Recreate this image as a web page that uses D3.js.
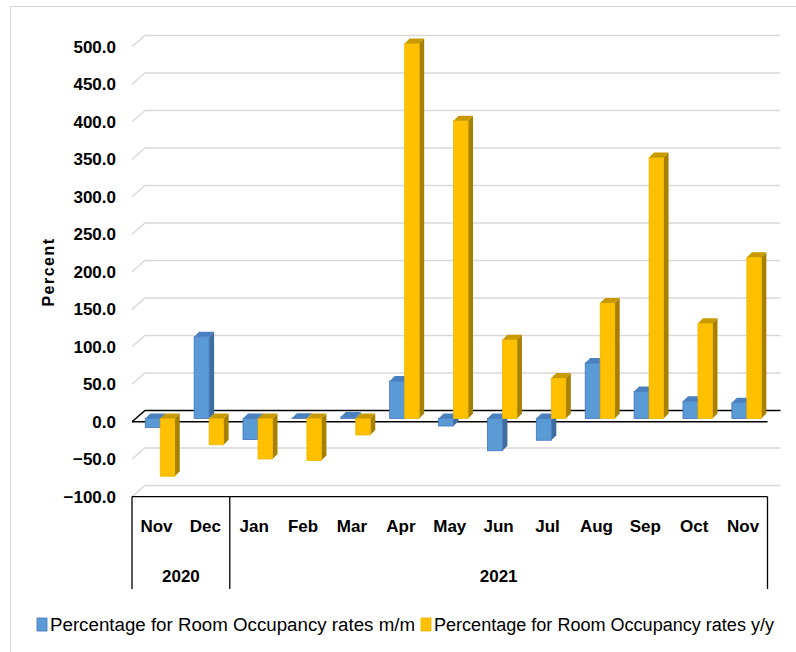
<!DOCTYPE html>
<html>
<head>
<meta charset="utf-8">
<script src="https://cdn.jsdelivr.net/npm/d3@7"></script>
<style>
  body { margin: 0; background: #fff; }
  text { font-family: "Liberation Sans", Arial, sans-serif; fill: #000; }
</style>
</head>
<body>
<div id="vis"></div>
<script>
// room occupancy change, Nov 2020 - Nov 2021
const months = ["Nov", "Dec", "Jan", "Feb", "Mar", "Apr", "May", "Jun", "Jul", "Aug", "Sep", "Oct", "Nov"];
const years = ["2020", "2020", "2021", "2021", "2021", "2021", "2021", "2021", "2021", "2021", "2021", "2021", "2021"];
const mom = [-12, 109, -28, 0.5, 2, 50, -10, -43, -29, 74, 36, 23, 21];
const yoy = [-77, -35, -54, -56, -22, 500, 397, 105, 54, 154, 348, 127, 215];
const yTicks = [-100, -50, 0, 50, 100, 150, 200, 250, 300, 350, 400, 450, 500];
const seriesNames = ["Percentage for Room Occupancy rates m/m", "Percentage for Room Occupancy rates y/y"];

const WIDTH = 796, HEIGHT = 652;
const FRONT = {left: 132, right: 767.5};
const DEPTH = {dx: 13, dy: -11.3};   // floor depth (front edge -> back wall)
const BAR_D = 5;                      // bar depth offset

const COLORS = [
  {front: "#5B9BD5", top: "#4A80BF", side: "#3F6E9E", stroke: "#4472C4"},
  {front: "#FFC000", top: "#C99A00", side: "#A88000", stroke: "#F2B600"}
];

const svg = d3.select("#vis").append("svg")
  .attr("width", WIDTH).attr("height", HEIGHT);

// chart frame
svg.append("rect")
  .attr("x", 10.5).attr("y", 6.5).attr("width", 800).attr("height", 660)
  .attr("fill", "none").attr("stroke", "#D9D9D9");

const keys = months.map((m, i) => years[i] + "-" + m + "-" + i);

const X = d3.scaleBand().domain(keys).range([FRONT.left, FRONT.right]);
const Y_FRONT = d3.scaleLinear().domain([-100, 500]).range([421.7 + 75, 421.7 - 375]);
const Y_BACK = d3.scaleLinear().domain([-100, 500]).range([Y_FRONT(-100) + DEPTH.dy, Y_FRONT(500) + DEPTH.dy]);
const Y_BAR = d3.scaleLinear().domain([-100, 500]).range([418.5 + 75, 418.5 - 375]);

// back wall gridlines + left wall stubs
const grid = svg.append("g");
grid.selectAll("path.grid")
  .data(yTicks)
  .join("path")
    .attr("class", "grid")
    .attr("d", d => "M" + FRONT.left + "," + Y_FRONT(d) +
                    "L" + (FRONT.left + DEPTH.dx) + "," + Y_BACK(d) +
                    "L" + (FRONT.right + DEPTH.dx) + "," + Y_BACK(d))
    .attr("fill", "none")
    .attr("stroke", d => d === 0 ? "#000" : "#D9D9D9")
    .attr("stroke-width", 1.5);

// front zero line
svg.append("line")
  .attr("x1", FRONT.left).attr("x2", FRONT.right)
  .attr("y1", Y_FRONT(0)).attr("y2", Y_FRONT(0))
  .attr("stroke", "#000").attr("stroke-width", 1.5);

// bars
const BW = [15, 14.5];
const SHIFT = 3.8;
const bars = months.map((m, i) => [
  {s: 0, i: i, v: mom[i]},
  {s: 1, i: i, v: yoy[i]}
]).flat();

function barGeom(d) {
  const c = X(keys[d.i]) + X.bandwidth() / 2 + SHIFT;
  const x0 = d.s === 0 ? c - BW[0] : c;
  const w = BW[d.s];
  const y0 = Y_BAR(0), y1 = Y_BAR(d.v);
  return {x0: x0, w: w, top: Math.min(y0, y1), bot: Math.max(y0, y1)};
}

const barG = svg.append("g").selectAll("g.bar")
  .data(bars)
  .join("g")
    .attr("class", "bar");

barG.append("path")
  .attr("d", d => {
    const g = barGeom(d);
    const xr = g.x0 + g.w;
    return "M" + xr + "," + g.bot + "L" + xr + "," + g.top +
           "L" + (xr + BAR_D) + "," + (g.top - BAR_D) +
           "L" + (xr + BAR_D) + "," + (g.bot - BAR_D) + "Z";
  })
  .attr("fill", d => COLORS[d.s].side);

barG.append("rect")
  .attr("x", d => barGeom(d).x0)
  .attr("y", d => barGeom(d).top)
  .attr("width", d => barGeom(d).w)
  .attr("height", d => barGeom(d).bot - barGeom(d).top)
  .attr("fill", d => COLORS[d.s].front)
  .attr("stroke", d => COLORS[d.s].stroke)
  .attr("stroke-width", 0.8);

barG.append("path")
  .attr("d", d => {
    const g = barGeom(d);
    return "M" + g.x0 + "," + g.top + "L" + (g.x0 + g.w) + "," + g.top +
           "L" + (g.x0 + g.w + BAR_D) + "," + (g.top - BAR_D) +
           "L" + (g.x0 + BAR_D) + "," + (g.top - BAR_D) + "Z";
  })
  .attr("fill", d => COLORS[d.s].top);

// y axis labels
const yAxis = svg.append("g")
  .attr("transform", "translate(117,0)")
  .call(d3.axisLeft(Y_FRONT).tickValues(yTicks).tickFormat(d3.format(".1f")).tickSize(0).tickPadding(1));
yAxis.select(".domain").remove();
yAxis.selectAll("text")
  .attr("font-size", 17).attr("font-weight", "bold")
  .attr("font-family", "Liberation Sans, Arial, sans-serif").attr("fill", "#000");

svg.append("text")
  .attr("transform", "translate(54,272) rotate(-90)")
  .attr("text-anchor", "middle")
  .attr("font-size", 16).attr("font-weight", "bold")
  .attr("letter-spacing", 1.5)
  .text("Percent");

// category table
const TABLE_TOP = 496.7, TABLE_BOT = 589;
const xAxis = svg.append("g")
  .attr("transform", "translate(0," + TABLE_TOP + ")")
  .call(d3.axisBottom(X).tickSize(0).tickPadding(23).tickFormat((k, i) => months[i]));
xAxis.select(".domain").remove();
xAxis.selectAll("text")
  .attr("font-size", 17).attr("font-weight", "bold")
  .attr("font-family", "Liberation Sans, Arial, sans-serif").attr("fill", "#000");

svg.append("line")
  .attr("x1", FRONT.left).attr("x2", FRONT.right)
  .attr("y1", TABLE_TOP).attr("y2", TABLE_TOP)
  .attr("stroke", "#000").attr("stroke-width", 1.3);

const yearGroups = d3.groups(keys.map((k, i) => ({k: k, y: years[i]})), d => d.y);
const edges = [FRONT.left].concat(yearGroups.map(g => X(g[1][g[1].length - 1].k) + X.step()));
svg.selectAll("line.sep")
  .data(edges)
  .join("line")
    .attr("class", "sep")
    .attr("x1", d => d).attr("x2", d => d)
    .attr("y1", TABLE_TOP).attr("y2", TABLE_BOT)
    .attr("stroke", "#000").attr("stroke-width", 1.3);

svg.selectAll("text.year")
  .data(yearGroups)
  .join("text")
    .attr("class", "year")
    .attr("x", g => (X(g[1][0].k) + X(g[1][g[1].length - 1].k) + X.step()) / 2)
    .attr("y", 582)
    .attr("text-anchor", "middle")
    .attr("font-size", 17).attr("font-weight", "bold")
    .text(g => g[0]);

// legend
const legendX = [37, 421];
const legendG = svg.selectAll("g.legend")
  .data(seriesNames)
  .join("g")
    .attr("class", "legend")
    .attr("transform", (d, i) => "translate(" + legendX[i] + ",618)");
legendG.append("rect")
  .attr("width", 10).attr("height", 13)
  .attr("fill", (d, i) => COLORS[i].front)
  .attr("stroke", (d, i) => COLORS[i].stroke).attr("stroke-width", 0.8);
legendG.append("text")
  .attr("x", 13).attr("y", 13)
  .attr("font-size", 18)
  .attr("textLength", (d, i) => i === 0 ? 365 : 340)
  .attr("lengthAdjust", "spacingAndGlyphs")
  .text(d => d);
</script>
</body>
</html>
